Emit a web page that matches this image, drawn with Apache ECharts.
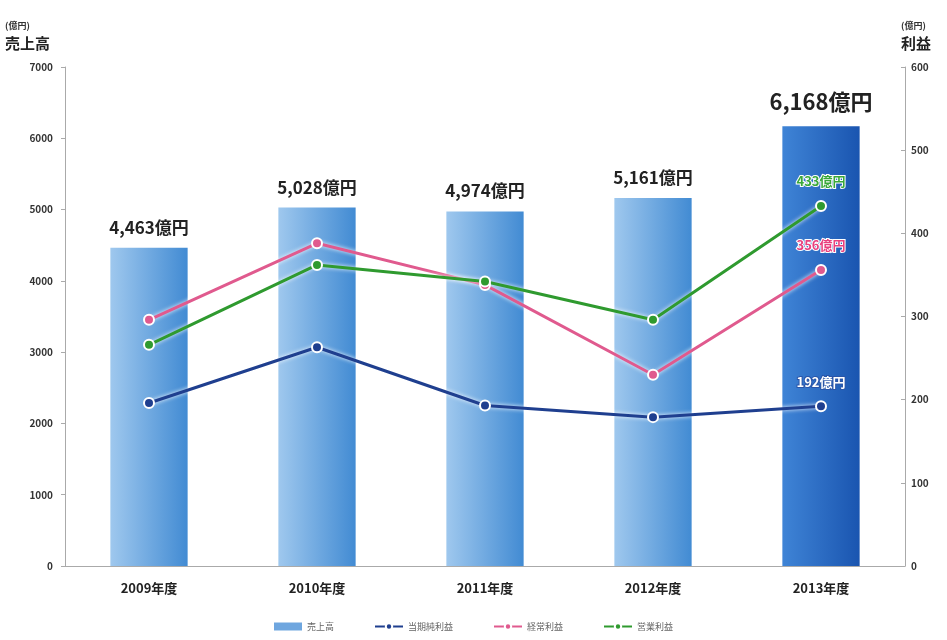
<!DOCTYPE html>
<html>
<head>
<meta charset="utf-8">
<script src="https://cdn.jsdelivr.net/npm/echarts@6/dist/echarts.min.js"></script>
<style>
html, body { margin: 0; padding: 0; background: #fff; }
#container { width: 947px; height: 640px; }
</style>
</head>
<body>
<div id="container"></div>
<script>
var categories = ['2009年度', '2010年度', '2011年度', '2012年度', '2013年度'];
var sales = [4463, 5028, 4974, 5161, 6168];
var netIncome = [196, 263, 193, 179, 192];
var ordinaryIncome = [296, 388, 338, 230, 356];
var operatingIncome = [266, 362, 342, 296, 433];
var salesLabels = ['4,463億円', '5,028億円', '4,974億円', '5,161億円', '6,168億円'];

var dom = document.getElementById('container');
var myChart = echarts.init(dom);
var font = '"Noto Sans CJK JP", sans-serif';

function barColor(dark) {
    if (dark) {
        return new echarts.graphic.LinearGradient(0, 0, 1, 0, [
            { offset: 0, color: '#3f84d6' },
            { offset: 1, color: '#1a55b0' }
        ]);
    }
    return new echarts.graphic.LinearGradient(0, 0, 1, 0, [
        { offset: 0, color: '#9fc8ee' },
        { offset: 1, color: '#428bd3' }
    ]);
}

var barData = sales.map(function (v, i) {
    var last = i === sales.length - 1;
    return {
        value: v,
        itemStyle: { color: barColor(last) },
        label: {
            formatter: salesLabels[i],
            fontSize: last ? 22 : 17,
            distance: last ? 14 : 12
        }
    };
});

function lineSeries(name, data, color, labelColor, outline) {
    return {
        name: name,
        type: 'line',
        yAxisIndex: 1,
        data: data.map(function (v, i) {
            if (i === data.length - 1) {
                return {
                    value: v,
                    label: {
                        show: true,
                        position: 'top',
                        distance: 12,
                        formatter: v + '億円',
                        color: labelColor,
                        fontFamily: font,
                        fontWeight: 'bold',
                        fontSize: 13,
                        textBorderColor: outline,
                        textBorderWidth: 2
                    }
                };
            }
            return v;
        }),
        symbol: 'circle',
        symbolSize: 10,
        lineStyle: { color: color, width: 3, shadowColor: 'rgba(255,255,255,0.95)', shadowBlur: 4 },
        itemStyle: { color: color, borderColor: '#ffffff', borderWidth: 2 },
        z: 5
    };
}

var nameRich = {
    u: { fontSize: 9, color: '#333', fontWeight: 'bold', lineHeight: 14 },
    t: { fontSize: 15, color: '#222', fontWeight: 'bold', lineHeight: 20 }
};

function plain(v) {
    return String(v);
}

option = {
    animation: false,
    textStyle: { fontFamily: font },
    grid: { left: 65, right: 42, top: 67, bottom: 74 },
    legend: {
        bottom: 4,
        left: 'center',
        itemGap: 40,
        itemWidth: 28,
        itemHeight: 8,
        textStyle: { fontSize: 9, color: '#666', fontFamily: font },
        data: [
            { name: '売上高', icon: 'rect' },
            '当期純利益', '経常利益', '営業利益'
        ]
    },
    xAxis: {
        type: 'category',
        data: categories,
        axisLine: { lineStyle: { color: '#aaa' } },
        axisTick: { show: false },
        axisLabel: { color: '#222', fontWeight: 'bold', fontSize: 13, margin: 16, fontFamily: font }
    },
    yAxis: [{
        type: 'value',
        min: 0,
        max: 7000,
        interval: 1000,
        name: '{u|(億円)}\n{t|売上高}',
        nameLocation: 'end',
        nameGap: 14,
        nameTextStyle: {
            align: 'left', padding: [0, 0, 0, -60],
            rich: nameRich
        },
        splitLine: { show: false },
        axisLine: { show: true, lineStyle: { color: '#aaa' } },
        axisTick: { show: true, length: 4, lineStyle: { color: '#aaa' } },
        axisLabel: { color: '#333', fontWeight: 'bold', fontSize: 10, margin: 12, formatter: plain }
    }, {
        type: 'value',
        min: 0,
        max: 600,
        interval: 100,
        name: '{u|(億円)}\n{t|利益}',
        nameLocation: 'end',
        nameGap: 14,
        nameTextStyle: {
            align: 'left', padding: [0, 0, 0, -4],
            rich: nameRich
        },
        splitLine: { show: false },
        axisLine: { show: true, lineStyle: { color: '#aaa' } },
        axisTick: { show: true, inside: true, length: 4, lineStyle: { color: '#aaa' } },
        axisLabel: { color: '#333', fontWeight: 'bold', fontSize: 10, margin: 6, formatter: plain }
    }],
    series: [{
        name: '売上高',
        type: 'bar',
        barWidth: '46%',
        data: barData,
        itemStyle: { color: '#6ea6df' },
        label: {
            show: true,
            position: 'top',
            color: '#222',
            fontWeight: 'bold',
            fontFamily: font
        },
        z: 2
    },
        lineSeries('当期純利益', netIncome, '#1f3f8f', '#ffffff', '#2a55a8'),
        lineSeries('経常利益', ordinaryIncome, '#e05a8e', '#e8407e', '#ffffff'),
        lineSeries('営業利益', operatingIncome, '#2f9a2f', '#3aa83a', '#ffffff')
    ]
};

if (option && typeof option === "object") {
    myChart.setOption(option, true);
}
</script>
</body>
</html>
